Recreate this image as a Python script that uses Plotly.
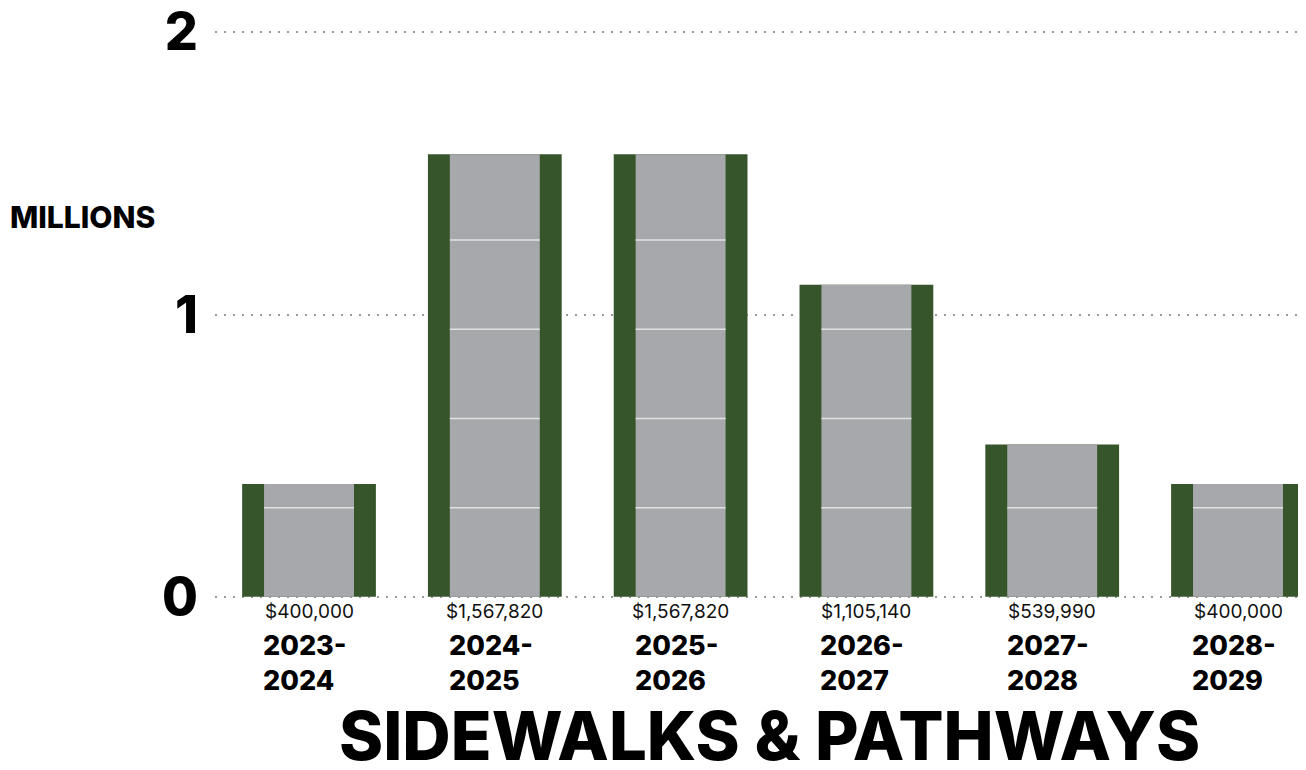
import plotly.graph_objs as go

years = ["2023-<br>2024", "2024-<br>2025", "2025-<br>2026", "2026-<br>2027", "2027-<br>2028", "2028-<br>2029"]
amounts = [400000, 1567820, 1567820, 1105140, 539990, 400000]
amount_labels = ["$400,000", "$1,567,820", "$1,567,820", "$1,105,140", "$539,990", "$400,000"]
y_ticks = [0, 1, 2]

GREEN = "#36552A"
GRAY = "#A7A8AB"
JOINT = "#E2E2E2"
JOINT_STEP = 0.316
FONT = "Inter"

# the page puts the figure 8px in from the top-left corner
WIDTH = 1298
HEIGHT = 762
PLOT_W = WIDTH - 207
PLOT_H = HEIGHT - 23 - 172

millions = [a / 1e6 for a in amounts]
positions = list(range(len(years)))

fig = go.Figure()
fig.add_trace(
    go.Bar(
        x = positions,
        y = millions,
        width = 0.72,
        marker = dict(color = GREEN, line = dict(width = 0)),
        hoverinfo = "skip"
    )
)
fig.add_trace(
    go.Bar(
        x = positions,
        y = millions,
        width = 0.484,
        marker = dict(color = GRAY, line = dict(width = 0)),
        hoverinfo = "skip"
    )
)

# sidewalk joints across the gray slab
joint_x = list()
joint_y = list()
for pos, height in zip(positions, millions):
    level = JOINT_STEP
    while level < height - 0.03:
        joint_x += [pos - 0.242, pos + 0.242, None]
        joint_y += [level, level, None]
        level += JOINT_STEP
fig.add_trace(
    go.Scatter(
        x = joint_x,
        y = joint_y,
        mode = "lines",
        line = dict(color = JOINT, width = 1.5),
        hoverinfo = "skip"
    )
)

for pos, label, year in zip(positions, amount_labels, years):
    fig.add_annotation(
        x = pos, y = 0,
        text = label,
        showarrow = False,
        yanchor = "top",
        yshift = -1,
        font = dict(family = FONT, size = 19, color = "#111111")
    )
    fig.add_annotation(
        x = pos, y = 0,
        text = year,
        showarrow = False,
        xanchor = "center",
        yanchor = "top",
        align = "left",
        xshift = -4,
        yshift = -30,
        font = dict(family = FONT, size = 27, color = "#000000", weight = 800)
    )

fig.add_annotation(
    x = -207 / PLOT_W, y = (590 - 209) / PLOT_H,
    xref = "paper", yref = "paper",
    text = "MILLIONS",
    showarrow = False,
    xanchor = "left", yanchor = "middle",
    font = dict(family = FONT, size = 30, color = "#000000", weight = 800)
)

fig.add_annotation(
    x = (761 - 207) / PLOT_W, y = -(728 - 590) / PLOT_H,
    xref = "paper", yref = "paper",
    text = "SIDEWALKS & PATHWAYS",
    showarrow = False,
    xanchor = "center", yanchor = "middle",
    font = dict(family = FONT, size = 67, color = "#000000", weight = 800)
)

fig.update_xaxes(
    range = [-0.506, 5.366],
    showticklabels = False,
    showgrid = False,
    zeroline = False,
    showline = False,
    ticks = "",
    automargin = False
)
fig.update_yaxes(
    range = [-0.004, 2.004],
    tickvals = y_ticks,
    showgrid = True,
    gridcolor = "#9A9A9A",
    griddash = "2px,7px",
    gridwidth = 1.5,
    zeroline = False,
    showline = False,
    ticks = "",
    ticklabelstandoff = 16,
    ticklabeloverflow = "allow",
    automargin = False,
    tickfont = dict(family = FONT, size = 52, color = "#000000", weight = 800)
)
fig.update_layout(
    width = WIDTH,
    height = HEIGHT,
    barmode = "overlay",
    showlegend = False,
    plot_bgcolor = "white",
    paper_bgcolor = "white",
    margin = dict(l = 207, r = 0, t = 23, b = 172)
)
fig.write_html("out.html")
